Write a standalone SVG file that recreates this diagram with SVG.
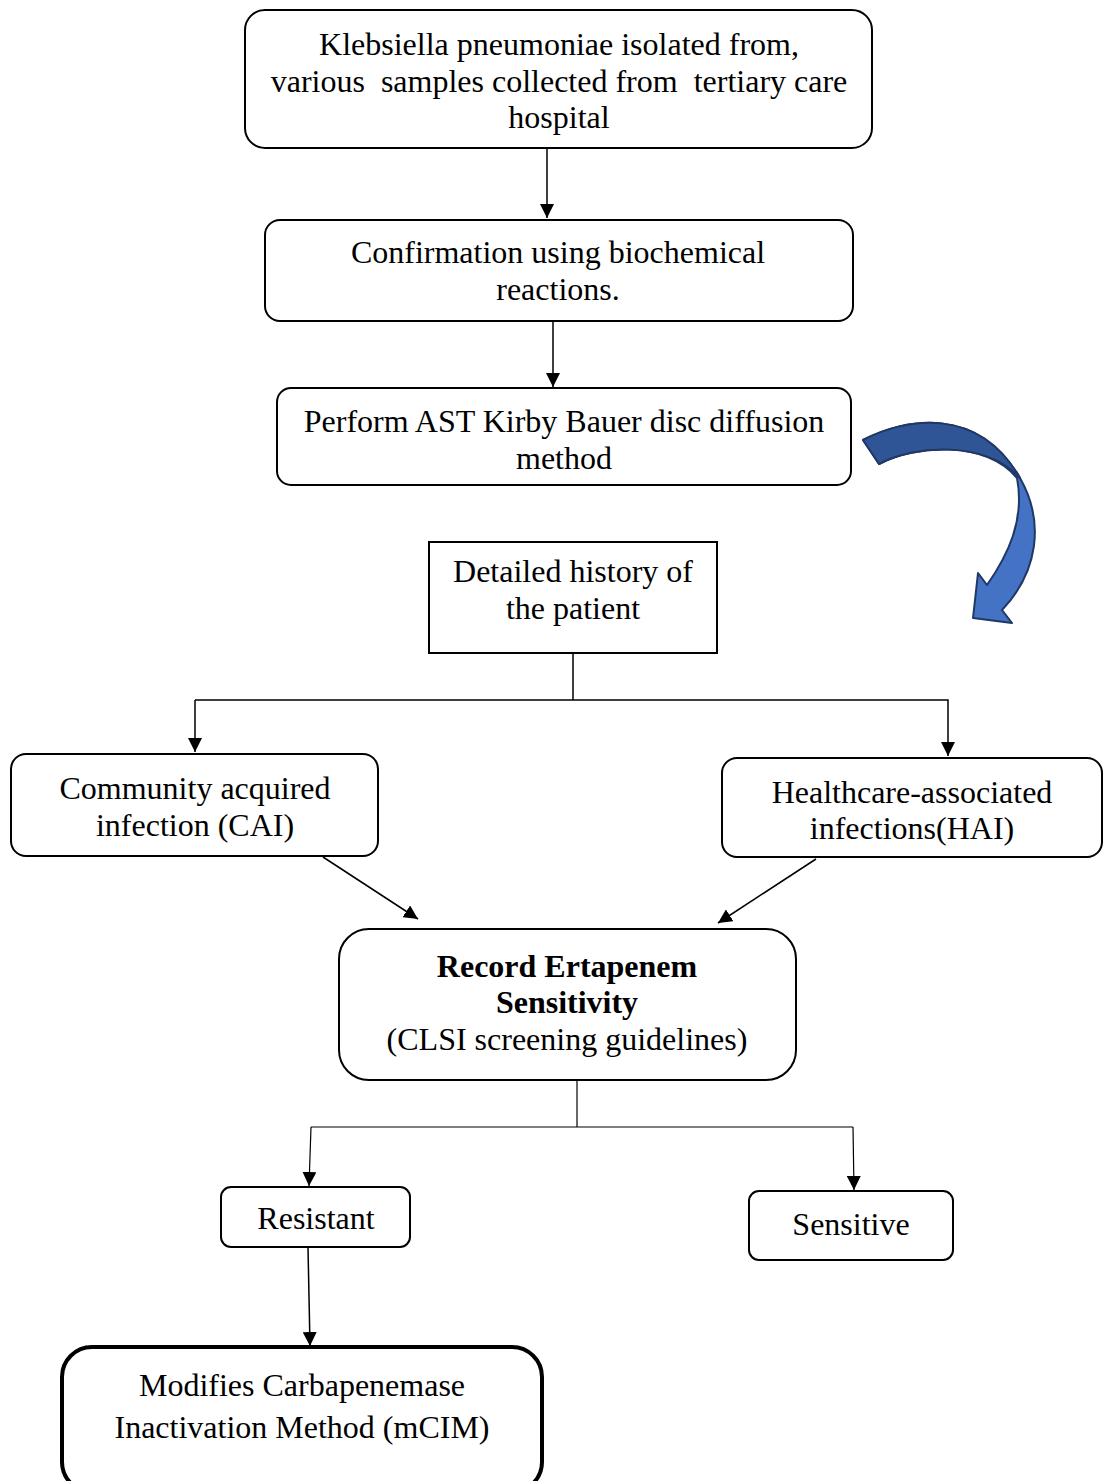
<svg xmlns="http://www.w3.org/2000/svg" width="1104" height="1481" viewBox="0 0 1104 1481">
<style>
.box{fill:#fff;stroke:#000;stroke-width:2}
.t{font-family:"Liberation Serif","Times New Roman",serif;font-size:32px;fill:#000;text-anchor:middle}
.b{font-weight:bold}
.c{fill:none;stroke:#000;stroke-width:1.5}
</style>
<defs>
<marker id="ahs" viewBox="0 0 10 10" refX="10" refY="5" markerWidth="14" markerHeight="14" markerUnits="userSpaceOnUse" orient="auto">
<path d="M0,0 L10,5 L0,10 Z" fill="#000"/>
</marker>
</defs>
<rect width="1104" height="1481" fill="#fff"/>
<g id="connectors">
<line class="c" x1="547" y1="148" x2="547" y2="218" marker-end="url(#ahs)"/>
<line class="c" x1="553" y1="321" x2="553" y2="387" marker-end="url(#ahs)"/>
<polyline class="c" points="573,653 573,700"/>
<polyline class="c" points="195,700 948,700 948,756" marker-end="url(#ahs)"/>
<line class="c" x1="195" y1="700" x2="195" y2="752" marker-end="url(#ahs)"/>
<line class="c" x1="323" y1="857" x2="418" y2="919" marker-end="url(#ahs)"/>
<line class="c" x1="816" y1="859" x2="718" y2="923" marker-end="url(#ahs)"/>
<polyline class="c" points="577,1080 577,1127" style="stroke-width:1.2"/>
<polyline class="c" points="311,1127 853,1127" style="stroke-width:1.2"/>
<line class="c" x1="311" y1="1127" x2="309" y2="1186" marker-end="url(#ahs)" style="stroke-width:1.2"/>
<line class="c" x1="853" y1="1127" x2="854" y2="1190" marker-end="url(#ahs)" style="stroke-width:1.2"/>
<line class="c" x1="308" y1="1247" x2="310" y2="1346" marker-end="url(#ahs)"/>
</g>
<g id="curved-arrow">
<path d="M863,440 C905,418 978,405 1020,478 C1045,522 1038,572 1002,610 L1012,623 L973,618 L978,573 L987,585 C1008,555 1025,520 1017,478 C985,440 915,445 879,464 Z" fill="#4472C4" stroke="#1F3864" stroke-width="2" stroke-linejoin="round"/>
<path d="M863,440 C905,418 978,405 1020,478 C985,440 915,445 879,464 Z" fill="#2F5597" stroke="#1F3864" stroke-width="2" stroke-linejoin="round"/>
</g>
<g id="n1">
<rect class="box" x="245" y="10" width="627" height="138" rx="20"/>
<text class="t" x="559" y="55">Klebsiella pneumoniae isolated from,</text>
<text class="t" x="559" y="92" xml:space="preserve">various  samples collected from  tertiary care</text>
<text class="t" x="559" y="128">hospital</text>
</g>
<g id="n2">
<rect class="box" x="265" y="220" width="588" height="101" rx="15"/>
<text class="t" x="558" y="263">Confirmation using biochemical</text>
<text class="t" x="558" y="300">reactions.</text>
</g>
<g id="n3">
<rect class="box" x="277" y="388" width="574" height="97" rx="14"/>
<text class="t" x="564" y="432">Perform AST Kirby Bauer disc diffusion</text>
<text class="t" x="564" y="469">method</text>
</g>
<g id="n4">
<rect class="box" x="429" y="542" width="288" height="111"/>
<text class="t" x="573" y="582">Detailed history of</text>
<text class="t" x="573" y="619">the patient</text>
</g>
<g id="n5">
<rect class="box" x="11" y="754" width="367" height="102" rx="15"/>
<text class="t" x="195" y="799">Community acquired</text>
<text class="t" x="195" y="836">infection (CAI)</text>
</g>
<g id="n6">
<rect class="box" x="722" y="758" width="380" height="99" rx="15"/>
<text class="t" x="912" y="803">Healthcare-associated</text>
<text class="t" x="912" y="839">infections(HAI)</text>
</g>
<g id="n7">
<rect class="box" x="339" y="929" width="457" height="151" rx="30"/>
<text class="t b" x="567" y="977">Record Ertapenem</text>
<text class="t b" x="567" y="1013">Sensitivity</text>
<text class="t" x="567" y="1050">(CLSI screening guidelines)</text>
</g>
<g id="n8">
<rect class="box" x="221" y="1187" width="189" height="60" rx="10"/>
<text class="t" x="316" y="1229">Resistant</text>
</g>
<g id="n9">
<rect class="box" x="749" y="1191" width="204" height="69" rx="10"/>
<text class="t" x="851" y="1235">Sensitive</text>
</g>
<g id="n10">
<rect class="box" x="62" y="1347" width="480" height="145" rx="30" style="stroke-width:4"/>
<text class="t" x="302" y="1396">Modifies Carbapenemase</text>
<text class="t" x="302" y="1438">Inactivation Method (mCIM)</text>
</g>
</svg>
